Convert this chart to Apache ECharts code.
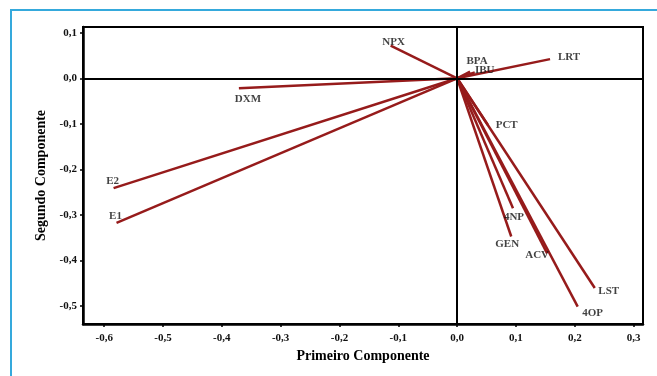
<!DOCTYPE html>
<html>
<head>
<meta charset="utf-8">
<script src="https://cdn.jsdelivr.net/npm/echarts@6/dist/echarts.min.js"></script>
<style>
  html, body { margin: 0; padding: 0; background: #fff; }
  .wrap { position: relative; width: 657px; height: 376px; }
  .frame {
    position: absolute; left: 10px; top: 9px; right: 0; bottom: 0;
    border-left: 2px solid #35a9dc; border-top: 2px solid #35a9dc;
  }
  #chart { position: absolute; left: 0; top: 0; width: 657px; height: 376px; }
</style>
</head>
<body>
<div class="wrap">
  <div class="frame"></div>
  <div id="chart"></div>
</div>
<script>
// loadings
const names = ['NPX', 'BPA', 'IBU', 'LRT', 'DXM', 'E2', 'E1', 'PCT', '4NP', 'GEN', 'ACV', 'LST', '4OP'];
const comp1 = [-0.113, 0.022, 0.030, 0.158, -0.371, -0.584, -0.579, 0.052, 0.095, 0.092, 0.153, 0.234, 0.205];
const comp2 = [0.0715, 0.0145, 0.013, 0.042, -0.022, -0.241, -0.317, -0.102, -0.285, -0.347, -0.384, -0.460, -0.501];
const xTicks = [-0.6, -0.5, -0.4, -0.3, -0.2, -0.1, 0.0, 0.1, 0.2, 0.3];
const yTicks = [0.1, 0.0, -0.1, -0.2, -0.3, -0.4, -0.5];

// label offsets from the arrow tip (px)
const labelOffset = {
  NPX: [3, -4], BPA: [7, -11], IBU: [10, -2], LRT: [19, -2], DXM: [9, 11],
  E2: [-1, -7], E1: [-1, -7], PCT: [19, 0], '4NP': [1, 9], GEN: [-4, 8],
  ACV: [-10, 2], LST: [14, 3], '4OP': [15, 6]
};

const fmt = v => v.toFixed(1).replace('.', ',').replace('-0,0', '0,0');
const serif = '"Liberation Serif", "DejaVu Serif", serif';

const chart = echarts.init(document.getElementById('chart'));

const vectors = names.map((n, i) => ({ coords: [[0, 0], [comp1[i], comp2[i]]] }));
const tips = names.map((n, i) => ({
  value: [comp1[i], comp2[i]],
  name: n,
  label: { offset: labelOffset[n] }
}));

chart.setOption({
  animation: false,
  grid: {
    left: 83, top: 27, right: 14, bottom: 52,
    show: true, borderColor: '#000', borderWidth: 2, backgroundColor: 'transparent'
  },
  xAxis: {
    type: 'value',
    min: -0.636, max: 0.316,
    name: 'Primeiro Componente',
    nameLocation: 'middle',
    nameGap: 24,
    nameTextStyle: { fontFamily: serif, fontWeight: 'bold', fontSize: 14, color: '#000' },
    splitLine: { show: false },
    axisLine: { onZero: false, lineStyle: { color: '#000', width: 2.5 } },
    axisTick: { show: true, length: 3, lineStyle: { color: '#000', width: 1.5 }, customValues: xTicks },
    axisLabel: {
      customValues: xTicks, formatter: fmt, margin: 9,
      fontFamily: serif, fontWeight: 'bold', fontSize: 11, color: '#111'
    }
  },
  yAxis: {
    type: 'value',
    min: -0.539, max: 0.1125,
    name: 'Segundo Componente',
    nameLocation: 'middle',
    nameGap: 34,
    nameTextStyle: { fontFamily: serif, fontWeight: 'bold', fontSize: 14, color: '#000' },
    splitLine: { show: false },
    axisLine: { onZero: false, lineStyle: { color: '#000', width: 2.5 } },
    axisTick: { show: true, length: 3, lineStyle: { color: '#000', width: 1.5 }, customValues: yTicks },
    axisLabel: {
      customValues: yTicks, formatter: fmt, margin: 6,
      fontFamily: serif, fontWeight: 'bold', fontSize: 11, color: '#111'
    }
  },
  series: [
    {
      type: 'line',
      data: [],
      markLine: {
        silent: true,
        symbol: 'none',
        label: { show: false },
        lineStyle: { color: '#000', width: 2, type: 'solid' },
        data: [{ xAxis: 0 }, { yAxis: 0 }]
      }
    },
    {
      type: 'lines',
      coordinateSystem: 'cartesian2d',
      data: vectors,
      lineStyle: { color: '#961b1b', width: 2.5, opacity: 1 },
      z: 3
    },
    {
      type: 'scatter',
      data: tips,
      symbolSize: 0,
      z: 4,
      label: {
        show: true,
        position: 'inside',
        formatter: p => p.name,
        fontFamily: serif,
        fontWeight: 'bold',
        fontSize: 11,
        color: '#111'
      }
    }
  ]
});
</script>
</body>
</html>
